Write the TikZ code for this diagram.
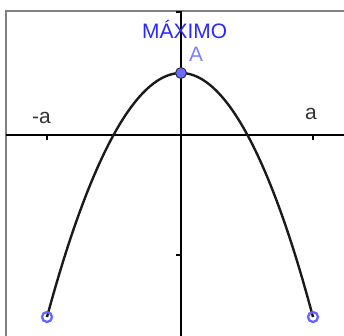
\documentclass[tikz,border=0pt]{standalone}
\usepackage{fontspec}
\setmainfont{Liberation Sans}
\begin{document}
\begin{tikzpicture}[x=1bp,y=-1bp,
  frameline/.style={draw={rgb,255:red,128;green,128;blue,128}, line width=1.5bp},
  axisline/.style={draw=black, line width=1.6bp},
  tickline/.style={draw=black, line width=1.4bp},
  curveline/.style={draw={rgb,255:red,26;green,26;blue,26}, line width=2.4bp},
  lbl/.style={inner sep=0pt, anchor=base west, font=\fontsize{21}{24}\selectfont},
  maxpt/.style={circle, inner sep=0pt, minimum size=11bp, fill={rgb,255:red,107;green,107;blue,255}, draw={rgb,255:red,40;green,40;blue,40}, line width=0.9bp},
  endpt/.style={circle, inner sep=0pt, minimum size=10bp, draw={rgb,255:red,100;green,100;blue,255}, line width=2.3bp}
]
\useasboundingbox (0,0) rectangle (344,336);
% frame
\coordinate (fb) at (6,336);
\coordinate (fc) at (6,11);
\coordinate (fr) at (344,11);
\draw[frameline] (fb) -- (fc) -- (fr);
% axes
\coordinate (xl) at (6,135);
\coordinate (xr) at (344,135);
\coordinate (yt) at (181,11);
\coordinate (yb) at (181,336);
\draw[axisline] (xl) -- (xr);
\draw[axisline] (yt) -- (yb);
% ticks
\coordinate (t1a) at (47,135); \coordinate (t1b) at (47,140);
\coordinate (t2a) at (313,135); \coordinate (t2b) at (313,140);
\coordinate (t3a) at (181,12); \coordinate (t3b) at (176,12);
\coordinate (t4a) at (181,255); \coordinate (t4b) at (176,255);
\draw[tickline] (t1a) -- (t1b);
\draw[tickline] (t2a) -- (t2b);
\draw[tickline] (t3a) -- (t3b);
\draw[tickline] (t4a) -- (t4b);
% parabola
\coordinate (L) at (47,317);
\coordinate (V) at (181,73);
\coordinate (R) at (313,317);
\draw[curveline] (L) parabola bend (V) (R);
% points
\node[maxpt] (A) at (V) {};
\node[endpt] (P1) at (L) {};
\node[endpt] (P2) at (R) {};
% labels
\node[lbl, text={rgb,255:red,40;green,40;blue,255}] (max) at (142,38) {MÁXIMO};
\node[lbl, text={rgb,255:red,128;green,128;blue,255}] (Alab) at (189,61) {A};
\node[lbl, text={rgb,255:red,51;green,51;blue,51}] (ma) at (32,123) {-a};
\node[lbl, text={rgb,255:red,51;green,51;blue,51}] (pa) at (305,119) {a};
\end{tikzpicture}
\end{document}
